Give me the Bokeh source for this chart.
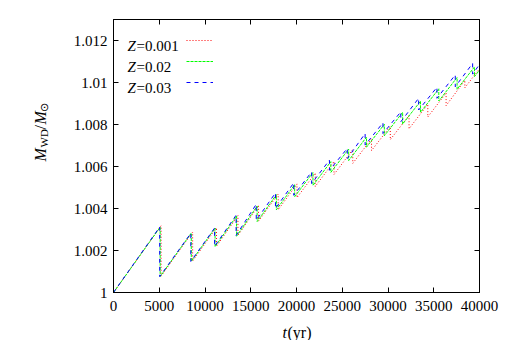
import math
from bokeh.plotting import figure
from bokeh.layouts import column, row
from bokeh.models import (Range1d, LinearAxis, FixedTicker, CustomJSTickFormatter,
                          Label, Legend, LegendItem)
from bokeh.embed import file_html
from bokeh.resources import INLINE

# ---- data ----
t_z0001 = [0, 5200, 5200, 8650, 8650, 11250, 11250, 13600, 13600, 15850, 15850,
           18000, 18000, 20050, 20050, 22050, 22050, 24100, 24100, 26150, 26150,
           28200, 28200, 30250, 30250, 32300, 32300, 34350, 34350, 36350, 36350,
           38400, 38400, 40000]
m_z0001 = [1.0, 1.00318, 1.00078, 1.00288, 1.00150, 1.00309, 1.00220, 1.00366, 1.00272,
           1.00414, 1.00340, 1.00469, 1.00394, 1.00517, 1.00452, 1.00568, 1.00505,
           1.00624, 1.00562, 1.00681, 1.00615, 1.00732, 1.00676, 1.00791, 1.00728,
           1.00843, 1.00780, 1.00896, 1.00836, 1.00950, 1.00890, 1.01010, 1.00975,
           1.01066]

t_z002 = [0, 5100, 5100, 8500, 8500, 11100, 11100, 13450, 13450, 15700, 15700,
          17800, 17800, 19800, 19800, 21800, 21800, 23750, 23750, 25700, 25700,
          27650, 27650, 29600, 29600, 31600, 31600, 33550, 33550, 35550, 35550,
          37550, 37550, 39450, 39450, 40000]
m_z002 = [1.0, 1.00311, 1.00076, 1.00283, 1.00148, 1.00307, 1.00218, 1.00364, 1.00268,
          1.00412, 1.00338, 1.00466, 1.00394, 1.00514, 1.00456, 1.00572, 1.00510,
          1.00623, 1.00572, 1.00683, 1.00628, 1.00740, 1.00692, 1.00801, 1.00746,
          1.00858, 1.00802, 1.00911, 1.00858, 1.00970, 1.00912, 1.01024, 1.00968,
          1.01074, 1.01028, 1.01059]

t_z003 = [0, 5050, 5050, 8450, 8450, 11050, 11050, 13400, 13400, 15600, 15600,
          17700, 17700, 19700, 19700, 21650, 21650, 23600, 23600, 25550, 25550,
          27500, 27500, 29450, 29450, 31400, 31400, 33350, 33350, 35350, 35350,
          37350, 37350, 39250, 39250, 40000]
m_z003 = [1.0, 1.00312, 1.00076, 1.00282, 1.00148, 1.00307, 1.00220, 1.00368, 1.00272,
          1.00420, 1.00344, 1.00474, 1.00400, 1.00522, 1.00463, 1.00574, 1.00519,
          1.00630, 1.00582, 1.00686, 1.00638, 1.00757, 1.00702, 1.00808, 1.00757,
          1.00860, 1.00813, 1.00925, 1.00869, 1.00977, 1.00925, 1.01036, 1.00980,
          1.01091, 1.01040, 1.01086]

series_names = ["0.001", "0.02", "0.03"]
x_ticks = [0, 5000, 10000, 15000, 20000, 25000, 30000, 35000, 40000]
y_ticks = [1.0, 1.002, 1.004, 1.006, 1.008, 1.01, 1.012]

FONT = "Liberation Serif"
MAIN_W, MAIN_H = 450, 318
YL_W = 50
XL_H = 22

p = figure(width=MAIN_W, height=MAIN_H, output_backend="svg", toolbar_location=None,
           x_range=Range1d(0, 40000), y_range=Range1d(1.0, 1.013),
           min_border_left=63, min_border_right=21, min_border_top=19,
           min_border_bottom=26)
p.grid.visible = False
p.outline_line_color = "black"
p.outline_line_width = 1
p.background_fill_color = "white"
p.border_fill_color = "white"

r1 = p.line(t_z0001, m_z0001, line_color="#ff0000", line_width=1, line_dash="1 2")
r2 = p.line(t_z002, m_z002, line_color="#00ff00", line_width=1, line_dash="3 1")
r3 = p.line(t_z003, m_z003, line_color="#0000ff", line_width=1, line_dash="4 4")

fmt = CustomJSTickFormatter(code="return String(parseFloat(tick.toFixed(3)));")
blank = CustomJSTickFormatter(code="return '';")

def style(ax, ticks, labels=True, standoff=6):
    ax.ticker = FixedTicker(ticks=ticks)
    ax.major_tick_in = 5
    ax.major_tick_out = 0
    ax.minor_tick_line_color = None
    ax.axis_line_color = "black"
    ax.major_tick_line_color = "black"
    ax.major_label_standoff = standoff
    if labels:
        ax.formatter = fmt
        ax.major_label_text_font = FONT
        ax.major_label_text_font_size = "15px"
        ax.major_label_text_color = "black"
    else:
        ax.formatter = blank
        ax.major_label_standoff = 0

style(p.xaxis[0], x_ticks, True, 8)
style(p.yaxis[0], y_ticks, True, 6)
top = LinearAxis()
right = LinearAxis()
style(top, x_ticks, False)
style(right, y_ticks, False)
p.add_layout(top, "above")
p.add_layout(right, "right")

def lab(fig, text, x, y, size="16px", style_="normal", angle=0.0):
    fig.add_layout(Label(x=x, y=y, x_units="screen", y_units="screen", text=text,
                         text_font=FONT, text_font_size=size, text_font_style=style_,
                         text_color="black", angle=angle, text_align="left",
                         text_baseline="alphabetic"))

def blank_fig(w, h):
    f = figure(width=w, height=h, output_backend="svg", toolbar_location=None,
               x_range=Range1d(0, 1), y_range=Range1d(0, 1), min_border=0)
    f.axis.visible = False
    f.grid.visible = False
    f.outline_line_color = None
    f.border_fill_color = "white"
    f.background_fill_color = "white"
    return f

# y axis label: M_WD / M_sun (rotated)
ylab = blank_fig(YL_W, MAIN_H)
a = math.pi / 2
lab(ylab, "M", 40, 131, "16px", "italic", a)
lab(ylab, "WD", 43.5, 145, "11px", "normal", a)
lab(ylab, "/", 40, 163, "16px", "normal", a)
lab(ylab, "M", 40, 168, "16px", "italic", a)
lab(ylab, "\u2299", 43.5, 181, "11px", "normal", a)

# x axis label: t(yr)
xlab = blank_fig(YL_W + MAIN_W, XL_H)
lab(xlab, "t", 282, 8, "16px", "italic")
lab(xlab, "(yr)", 287, 8, "16px")

# legend texts
for i, nm in enumerate(series_names):
    yb = 247 - 21 * i
    lab(p, "Z", 14, yb, "15px", "italic")
    lab(p, "=" + nm, 23, yb, "15px")

legend = Legend(items=[LegendItem(label=" ", renderers=[r]) for r in (r1, r2, r3)],
                location=(73, 200), glyph_width=27, glyph_height=20,
                label_width=0, label_height=20, label_standoff=0, spacing=1,
                padding=0, margin=0, border_line_alpha=0,
                background_fill_alpha=0, label_text_font_size="15px")
p.add_layout(legend)

layout = column(row(ylab, p, spacing=0), xlab, spacing=0)
open("out.html", "w").write(file_html(layout, INLINE))
